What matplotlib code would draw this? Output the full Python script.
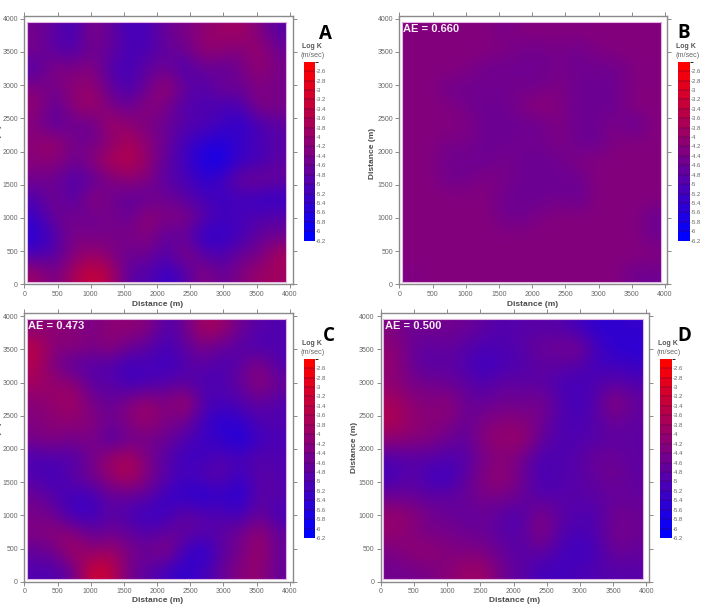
import numpy as np
import matplotlib
matplotlib.use("Agg")
import matplotlib.pyplot as plt
from matplotlib.colors import LinearSegmentedColormap, BoundaryNorm, Normalize
from matplotlib.cm import ScalarMappable
from matplotlib.patches import Rectangle

# log K fields, top row first (about 280 m cells)
field_a = [
    [-4.5,-4.8,-5.2,-4.3,-4.7,-5.2,-5.1,-4.6,-4.4,-4.1,-3.9,-3.8,-4.3,-4.9],
    [-4.4,-4.9,-5.0,-4.5,-4.7,-5.1,-5.1,-4.7,-4.6,-4.0,-4.1,-4.3,-3.9,-4.6],
    [-5.0,-4.2,-4.4,-4.2,-5.0,-5.2,-4.7,-4.6,-5.1,-4.6,-4.8,-4.5,-4.0,-4.4],
    [-4.3,-4.5,-4.1,-4.0,-4.7,-5.1,-4.6,-3.9,-4.7,-5.0,-4.5,-4.6,-4.3,-4.5],
    [-4.0,-4.8,-4.1,-3.8,-4.4,-4.7,-4.1,-4.4,-5.0,-5.0,-5.1,-5.1,-4.2,-4.4],
    [-4.3,-4.9,-4.5,-4.7,-3.8,-4.1,-4.4,-4.6,-4.9,-5.0,-5.2,-5.5,-5.1,-4.8],
    [-4.1,-3.9,-4.5,-4.5,-4.2,-3.6,-4.2,-4.6,-5.2,-5.5,-5.7,-5.3,-5.1,-4.9],
    [-4.2,-4.1,-4.6,-4.2,-3.6,-3.5,-4.0,-4.8,-5.2,-5.8,-5.9,-5.3,-5.2,-4.8],
    [-4.5,-4.6,-5.0,-4.8,-4.4,-4.1,-4.3,-4.9,-5.0,-5.5,-5.2,-4.6,-4.5,-4.7],
    [-5.0,-4.4,-5.0,-4.1,-4.5,-4.8,-4.7,-4.5,-4.9,-5.1,-5.3,-5.2,-5.4,-5.4],
    [-5.3,-4.6,-4.5,-4.6,-4.4,-4.7,-4.0,-4.4,-4.2,-4.9,-5.2,-5.1,-5.0,-4.9],
    [-5.6,-5.0,-4.3,-4.5,-4.4,-4.4,-4.2,-4.8,-4.7,-5.5,-5.4,-5.2,-4.7,-4.6],
    [-5.1,-4.9,-4.3,-3.9,-4.3,-4.6,-4.5,-5.0,-4.2,-4.9,-5.1,-4.6,-4.5,-3.7],
    [-3.9,-4.5,-3.7,-3.2,-3.6,-4.9,-4.9,-5.4,-5.0,-4.2,-4.7,-4.3,-3.9,-3.8],
]
field_b = [
    [-4.25,-4.25,-4.25,-4.25,-4.25,-4.45,-4.25,-4.25,-4.25,-4.25,-4.25,-4.25,-4.25,-4.25],
    [-4.25,-4.25,-4.25,-4.25,-4.25,-4.3,-4.5,-4.5,-4.4,-4.55,-4.3,-4.25,-4.25,-4.25],
    [-4.25,-4.25,-4.25,-4.3,-4.55,-4.55,-4.55,-4.55,-4.45,-4.55,-4.55,-4.55,-4.3,-4.25],
    [-4.25,-4.25,-4.5,-4.55,-4.5,-4.5,-4.5,-4.5,-4.3,-4.6,-4.6,-4.55,-4.3,-4.25],
    [-4.25,-4.25,-4.3,-4.5,-4.6,-4.6,-4.3,-4.1,-4.3,-4.6,-4.6,-4.6,-4.2,-4.25],
    [-4.25,-4.25,-4.25,-4.3,-4.6,-4.6,-4.6,-4.55,-4.3,-4.6,-4.6,-4.3,-4.75,-4.25],
    [-4.25,-4.25,-4.45,-4.4,-4.6,-4.6,-4.5,-4.55,-4.3,-4.6,-4.6,-4.3,-4.25,-4.25],
    [-4.25,-4.25,-4.55,-4.55,-4.6,-4.4,-4.6,-4.6,-4.55,-4.3,-4.25,-4.25,-4.25,-4.25],
    [-4.25,-4.25,-4.5,-4.5,-4.3,-4.4,-4.6,-4.6,-4.6,-4.6,-4.25,-4.25,-4.25,-4.25],
    [-4.25,-4.25,-4.25,-4.25,-4.25,-4.55,-4.6,-4.6,-4.5,-4.65,-4.25,-4.25,-4.25,-4.25],
    [-4.25,-4.25,-4.25,-4.25,-4.25,-4.5,-4.55,-4.3,-4.25,-4.25,-4.25,-4.25,-4.25,-4.6],
    [-4.25,-4.25,-4.25,-4.25,-4.25,-4.25,-4.25,-4.25,-4.25,-4.25,-4.25,-4.25,-4.25,-4.55],
    [-4.25,-4.25,-4.25,-4.25,-4.25,-4.25,-4.25,-4.25,-4.25,-4.25,-4.25,-4.25,-4.25,-4.25],
    [-4.35,-4.25,-4.25,-4.25,-4.25,-4.25,-4.25,-4.25,-4.25,-4.25,-4.25,-4.25,-4.55,-4.55],
]
field_c = [
    [-4.2,-4.1,-4.2,-4.4,-4.1,-4.1,-4.2,-5.0,-4.6,-3.7,-3.9,-4.6,-4.9,-5.0],
    [-3.4,-4.3,-4.1,-4.4,-4.1,-4.6,-4.8,-5.2,-4.8,-4.4,-4.7,-4.9,-5.1,-5.0],
    [-3.6,-4.4,-4.9,-4.9,-5.0,-5.3,-5.1,-5.3,-5.0,-4.8,-5.1,-4.8,-4.2,-5.0],
    [-3.8,-4.0,-4.0,-4.9,-4.8,-5.2,-5.1,-4.9,-4.8,-5.1,-5.0,-4.7,-4.1,-4.6],
    [-4.2,-4.0,-3.8,-4.4,-4.7,-4.3,-3.9,-4.4,-3.7,-5.0,-5.1,-5.0,-4.7,-5.0],
    [-4.3,-4.1,-4.1,-4.2,-4.6,-4.2,-3.9,-4.4,-4.5,-5.2,-5.6,-5.4,-5.0,-5.0],
    [-4.4,-4.3,-4.5,-4.3,-5.0,-4.6,-4.5,-4.6,-5.0,-5.3,-5.4,-5.8,-5.2,-5.1],
    [-5.1,-5.0,-5.0,-4.5,-3.9,-3.6,-4.4,-4.9,-5.3,-5.2,-5.0,-5.1,-4.9,-5.0],
    [-5.0,-5.2,-4.8,-4.5,-4.0,-3.6,-4.3,-4.9,-5.2,-5.0,-4.8,-5.4,-4.8,-5.0],
    [-4.6,-5.0,-5.2,-5.2,-4.7,-4.7,-4.8,-5.3,-5.5,-5.6,-5.4,-5.6,-4.8,-4.9],
    [-4.4,-4.6,-5.3,-5.3,-4.8,-5.1,-5.3,-5.3,-4.7,-5.0,-5.0,-5.3,-4.6,-5.2],
    [-4.3,-4.1,-4.2,-4.7,-4.6,-4.7,-5.0,-4.7,-4.7,-4.9,-4.8,-4.5,-4.0,-4.7],
    [-4.7,-4.5,-3.7,-4.2,-3.8,-4.4,-4.6,-4.2,-5.2,-5.6,-4.8,-4.5,-3.8,-4.7],
    [-5.0,-5.0,-4.6,-3.1,-3.3,-4.5,-4.8,-5.2,-5.5,-5.2,-4.7,-4.2,-4.0,-4.7],
]
field_d = [
    [-4.3,-4.6,-4.5,-4.5,-4.6,-4.8,-5.0,-4.9,-4.9,-4.9,-5.2,-5.5,-5.5,-5.4],
    [-4.1,-4.6,-4.8,-4.7,-4.9,-5.1,-5.0,-4.9,-4.6,-4.6,-4.4,-5.2,-5.5,-5.6],
    [-4.0,-4.6,-4.9,-4.8,-5.0,-5.3,-5.1,-5.0,-4.8,-4.8,-4.9,-5.2,-5.2,-5.3],
    [-4.1,-4.4,-4.5,-4.6,-4.8,-5.0,-4.7,-4.8,-4.8,-5.1,-5.2,-5.0,-4.8,-5.0],
    [-3.7,-4.1,-4.3,-4.1,-4.6,-4.7,-4.5,-4.6,-4.4,-4.9,-5.2,-4.9,-4.1,-4.7],
    [-3.6,-4.0,-4.2,-4.2,-4.7,-4.3,-4.2,-4.2,-4.5,-5.0,-5.1,-4.9,-4.6,-4.8],
    [-4.1,-4.2,-4.3,-4.6,-4.8,-4.1,-4.0,-3.9,-4.7,-5.0,-5.0,-4.9,-4.8,-4.8],
    [-5.0,-4.9,-4.9,-5.0,-4.9,-4.4,-4.2,-4.5,-5.1,-5.0,-4.9,-4.6,-4.6,-4.8],
    [-5.2,-4.8,-5.2,-5.3,-4.8,-4.2,-4.0,-4.6,-5.1,-5.0,-4.9,-4.7,-4.5,-4.8],
    [-4.6,-4.7,-4.8,-4.8,-4.6,-4.4,-4.4,-4.6,-5.0,-4.9,-4.9,-4.8,-4.7,-4.7],
    [-4.0,-4.1,-4.5,-4.6,-4.8,-4.6,-4.9,-5.0,-4.3,-4.8,-5.0,-5.0,-4.5,-4.6],
    [-4.0,-4.2,-4.5,-4.4,-4.6,-4.6,-4.9,-4.9,-4.2,-4.9,-5.1,-5.0,-4.4,-4.6],
    [-4.4,-4.1,-4.0,-4.3,-4.3,-4.4,-4.7,-4.9,-4.7,-5.1,-5.3,-5.1,-4.6,-4.7],
    [-4.5,-4.5,-4.4,-4.2,-3.9,-3.9,-4.6,-4.8,-5.2,-5.2,-5.1,-5.0,-4.9,-4.9],
]

ae_labels = [None, "AE = 0.660", "AE = 0.473", "AE = 0.500"]
panel_letters = ["A", "B", "C", "D"]
dist_ticks = [0, 500, 1000, 1500, 2000, 2500, 3000, 3500, 4000]
k_ticks = [-2.6, -2.8, -3, -3.2, -3.4, -3.6, -3.8, -4, -4.2, -4.4, -4.6, -4.8,
           -5, -5.2, -5.4, -5.6, -5.8, -6, -6.2]
k_levels = [-6.2, -6.0, -5.8, -5.6, -5.4, -5.2, -5.0, -4.8, -4.6, -4.4, -4.2, -4.0,
            -3.8, -3.6, -3.4, -3.2, -3.0, -2.8, -2.6, -2.4]

W, H = 701, 604
PX_PER_M = 66.4 / 1000
grey = "#8a8a8a"

# layout in pixels of the image: left, right, top, bottom of the frame
frames = [(24.3, 292.7, 16, 284.3), (399.3, 667.3, 16, 284.3),
          (24.3, 292.7, 313.3, 581.7), (380.7, 649.3, 313.3, 581.7)]
bars = [(304, 315, 61.7, 240.7), (678.3, 690, 61.7, 240.7),
        (304, 315, 358.7, 538), (660, 671.7, 358.7, 538)]
letter_xy = [(325, 34), (684, 33), (329, 336), (684, 336)]
ae_xy = [None, (403, 28.7), (28.3, 326), (385, 326)]
xlabel_y = [304.7, 304.7, 601, 601]
ylabel_xy = [(-1, 150), (372, 153), (-1, 447), (354, 447)]

kmap = LinearSegmentedColormap.from_list("bluered", ["#0000ff", "#ff0000"])
field_norm = Normalize(-6.2, -2.4)


def fx(px):
    return px / W


def fy(px):
    return 1 - px / H


plt.rcParams["font.family"] = "Liberation Sans"
fig = plt.figure(figsize=(W / 100, H / 100), dpi=100)

fields = [field_a, field_b, field_c, field_d]
for i, field in enumerate(fields):
    l, r, t, b = frames[i]
    ax = fig.add_axes([fx(l), fy(b), (r - l) / W, (b - t) / H])
    ax.imshow(np.array(field), cmap=kmap, norm=field_norm, extent=[40, 3945, 40, 3950],
              origin="upper", interpolation="bicubic", aspect="auto")
    ax.add_patch(Rectangle((40, 40), 3905, 3910, fill=False, ec="#e2b4e2", lw=0.8))
    ax.set_xlim(0, (r - l) / PX_PER_M)
    ax.set_ylim(0, (b - t) / PX_PER_M)
    ax.set_xticks(dist_ticks)
    ax.set_yticks(dist_ticks)
    ax.tick_params(top=True, right=True, direction="out", length=3, width=0.7,
                   color=grey, labelcolor="#666666", labelsize=5, pad=1.5)
    for s in ax.spines.values():
        s.set_color(grey)
        s.set_linewidth(1.0)

    fig.text(fx((l + r) / 2 - 0.5), fy(xlabel_y[i]), "Distance (m)", ha="center", va="center",
             weight="bold", size=6, color="#4a4a4a")
    fig.text(fx(ylabel_xy[i][0]), fy(ylabel_xy[i][1]), "Distance (m)", ha="center", va="center",
             rotation=90, weight="bold", size=6, color="#4a4a4a")

    if ae_labels[i]:
        fig.text(fx(ae_xy[i][0]), fy(ae_xy[i][1]), ae_labels[i], ha="left", va="center",
                 weight="bold", size=8, color="#f6ecf6")

    # colour bar with 19 bands
    bl, br, bt, bb = bars[i]
    cax = fig.add_axes([fx(bl), fy(bb), (br - bl) / W, (bb - bt) / H])
    band_norm = BoundaryNorm(k_levels, len(k_levels) - 1)
    band_cmap = kmap.resampled(len(k_levels) - 1)
    cb = fig.colorbar(ScalarMappable(norm=band_norm, cmap=band_cmap), cax=cax,
                      ticks=k_ticks, spacing="uniform", drawedges=True)
    cb.ax.set_yticklabels([f"{v:g}" for v in k_ticks])
    cb.ax.tick_params(length=0, labelsize=4.3, labelcolor="#666666", pad=0.8)
    cb.outline.set_visible(False)
    cb.dividers.set_color("#3a0a3a")
    cb.dividers.set_linewidth(0.3)

    cx = (bl + br) / 2
    fig.text(fx(cx + 2), fy(bt - 15.5), "Log K", ha="center", va="center",
             weight="bold", size=5, color="#555555")
    fig.text(fx(cx + 3), fy(bt - 6), "(m/sec)", ha="center", va="center",
             size=5.2, color="#666666")
    fig.text(fx(letter_xy[i][0]), fy(letter_xy[i][1]), panel_letters[i], ha="center", va="center",
             family="Open Sans", weight="bold", size=13.5, color="black")

fig.savefig("out.png", dpi=100)
